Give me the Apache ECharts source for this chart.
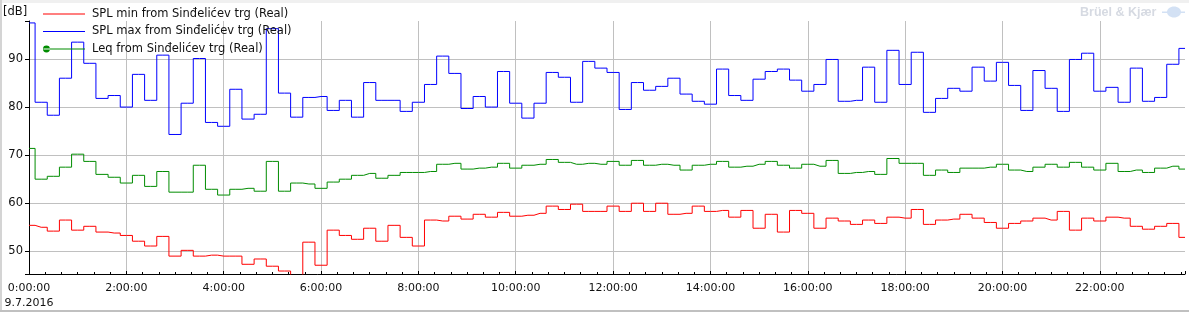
<!DOCTYPE html>
<html>
<head>
<meta charset="utf-8">
<script src="https://cdn.jsdelivr.net/npm/echarts@6/dist/echarts.min.js"></script>
<style>
html,body{margin:0;padding:0;background:#fff;}
#chart{width:1189px;height:312px;}
</style>
</head>
<body>
<div id="chart"></div>
<script>
// ---- Data (15-minute samples, 9.7.2016 from 0:00:00) ----
const seriesNames = [
  'SPL min from Sinđelićev trg (Real)',
  'SPL max from Sinđelićev trg (Real)',
  'Leq from Sinđelićev trg (Real)'
];
const sampleStepHours = 0.25;
const splMin = [
  55.4, 55.0, 54.2, 56.5, 54.4, 55.2, 54.0, 53.8, 53.3, 52.1, 51.1, 53.1, 49.0, 50.2, 49.0, 49.2, 49.0, 49.0, 47.3, 48.4, 46.9, 45.9, 44.0,
  51.9, 47.1, 54.4, 53.3, 52.5, 54.8, 52.1, 55.4, 52.9, 51.1, 56.5, 56.3, 57.3, 56.7, 57.7, 57.1, 58.1, 57.3, 57.5, 57.9, 59.4, 58.7, 59.8,
  58.3, 58.3, 59.4, 58.3, 60.0, 58.3, 60.0, 57.7, 57.9, 59.4, 58.3, 58.5, 57.1, 58.5, 54.8, 57.7, 54.0, 58.5, 57.9, 54.8, 56.9, 56.3, 55.6, 56.5, 55.8,
  57.1, 56.9, 58.7, 55.6, 56.5, 56.7, 57.7, 56.9, 56.0, 54.8, 55.8, 56.3, 56.9, 56.5, 58.3, 54.4, 56.9, 56.3, 57.1, 56.9, 55.2, 54.6, 55.2, 55.8, 52.9
];
const splMax = [
  97.5, 81.0, 78.3, 86.0, 93.5, 89.1, 81.8, 82.4, 80.0, 86.8, 81.4, 90.8, 74.3, 80.8, 90.1, 76.8, 76.0, 83.7, 77.5, 78.5, 96.3, 82.9, 77.9,
  82.0, 82.2, 79.3, 81.4, 77.9, 85.1, 81.4, 81.4, 79.1, 81.0, 84.7, 90.6, 87.0, 79.7, 82.2, 80.0, 87.4, 80.8, 77.7, 80.8, 87.2, 86.2, 81.0,
  89.5, 88.1, 87.2, 79.5, 85.1, 83.5, 84.3, 86.0, 82.7, 81.2, 80.6, 87.9, 82.4, 81.4, 85.8, 87.4, 87.9, 85.6, 83.3, 84.7, 89.9, 81.2, 81.4, 88.3, 81.0,
  91.8, 84.7, 91.4, 78.9, 81.8, 83.9, 83.3, 88.3, 85.4, 89.3, 84.5, 79.3, 87.6, 83.9, 79.1, 89.9, 91.2, 83.3, 84.1, 81.0, 88.1, 81.2, 82.0, 88.9, 92.2
];
const leq = [
  71.4, 65.0, 65.6, 67.5, 70.2, 68.7, 66.0, 65.4, 64.2, 65.8, 63.5, 66.6, 62.3, 62.3, 67.9, 62.9, 61.7, 62.9, 63.1, 62.5, 68.7, 62.5, 64.2,
  64.0, 63.1, 64.4, 65.0, 65.8, 66.2, 65.2, 65.8, 66.4, 66.4, 66.6, 68.1, 68.3, 67.1, 67.3, 67.5, 68.3, 67.3, 67.9, 68.1, 69.1, 68.5, 68.1,
  68.3, 68.1, 68.7, 67.9, 68.9, 67.9, 68.1, 67.9, 66.9, 67.9, 68.1, 68.7, 67.5, 67.7, 68.1, 68.7, 67.9, 67.3, 68.1, 67.7, 68.9, 66.2, 66.4, 66.6, 66.0,
  69.3, 68.3, 68.3, 65.8, 66.9, 66.4, 67.3, 67.3, 67.5, 68.1, 66.9, 66.6, 67.5, 68.1, 67.5, 68.5, 67.5, 66.9, 68.3, 66.6, 66.9, 66.4, 67.3, 67.7, 67.1
];
const yTickValues = [50, 60, 70, 80, 90];
const xTickHours = [0, 2, 4, 6, 8, 10, 12, 14, 16, 18, 20, 22];
const dateLabel = '9.7.2016';
const yUnit = '[dB]';
const watermark = 'Brüel & Kjær';

// ---- Build ----
const toPairs = arr => arr.map((v, i) => [i * sampleStepHours, v]);
const lastHour = (splMin.length - 1) * sampleStepHours;

const FONT = 'DejaVu Sans';
const chart = echarts.init(document.getElementById('chart'), null, {renderer: 'canvas'});

const gridGray = '#c0c0c0';
const xSplitColors = [];
for (let i = 0; i < 14; i++) xSplitColors.push(i === 0 || i === 12 ? 'rgba(0,0,0,0)' : gridGray);
const ySplitColors = ['rgba(0,0,0,0)', gridGray, gridGray, gridGray, gridGray, gridGray, 'rgba(0,0,0,0)'];

const lineIcon = 'path://M0,4.5L42,4.5L42,5.5L0,5.5Z';
const dotIcon = 'path://M0,4.5L42,4.5L42,5.5L0,5.5Z M-0.5,5a3.5,3.5 0 1,0 7,0a3.5,3.5 0 1,0 -7,0Z';

chart.setOption({
  animation: false,
  backgroundColor: '#ffffff',
  textStyle: {fontFamily: FONT},
  grid: {left: 29, right: 4, top: 21, bottom: 38, containLabel: false},
  legend: {
    orient: 'vertical',
    left: 38, top: 2,
    itemWidth: 42, itemHeight: 10, itemGap: 3.5,
    selectedMode: false,
    data: [
      {name: seriesNames[0], icon: lineIcon},
      {name: seriesNames[1], icon: lineIcon},
      {name: seriesNames[2], icon: dotIcon}
    ],
    textStyle: {fontFamily: FONT, fontSize: 11.5, color: '#111', lineHeight: 14, padding: [0, 0, 0, 2]}
  },
  xAxis: {
    type: 'value',
    min: 0, max: lastHour, interval: 2,
    axisLine: {show: true, onZero: false, lineStyle: {color: '#000', width: 1}},
    axisTick: {show: true, inside: true, length: 3, lineStyle: {color: '#000'}},
    minorTick: {show: true, splitNumber: 6, length: 2, lineStyle: {color: '#000'}},
    splitLine: {show: true, lineStyle: {color: xSplitColors, width: 1}},
    axisLabel: {
      color: '#111', fontFamily: FONT, fontSize: 11, margin: 7, lineHeight: 15,
      showMaxLabel: false,
      formatter: v => {
        if (xTickHours.indexOf(v) < 0) return '';
        return v === 0 ? v + ':00:00\n' + dateLabel : v + ':00:00';
      }
    }
  },
  yAxis: {
    type: 'value',
    min: 45.28, max: 97.9,
    axisLine: {show: true, lineStyle: {color: '#000', width: 1}},
    axisTick: {show: true, length: 4, lineStyle: {color: '#000'}},
    splitLine: {show: true, lineStyle: {color: ySplitColors, width: 1}},
    axisLabel: {
      color: '#111', fontFamily: FONT, fontSize: 11.5, margin: 6,
      formatter: v => yTickValues.indexOf(v) >= 0 ? String(v) : ''
    }
  },
  graphic: [
    {type: 'rect', left: 0, top: 0, shape: {width: 1189, height: 3}, style: {fill: '#f0f0f0'}, silent: true},
    {type: 'rect', left: 0, top: 0, shape: {width: 2, height: 312}, style: {fill: '#d4d4d4'}, silent: true},
    {type: 'rect', left: 0, top: 310, shape: {width: 1189, height: 2}, style: {fill: '#c0c0c0'}, silent: true},
    {type: 'text', left: 3, top: 6, style: {text: yUnit, font: '11.5px "DejaVu Sans"', fill: '#111'}},
    {type: 'text', left: 1080, top: 6, style: {text: watermark, font: 'bold 12.5px "Liberation Sans"', fill: '#d6dae2'}},
    {type: 'ellipse', shape: {cx: 1174, cy: 12, rx: 7, ry: 5.5}, style: {fill: '#d3e1f4'}, silent: true},
    {type: 'rect', shape: {x: 1162, y: 11.5, width: 23, height: 1.5}, style: {fill: '#d3e1f4'}, silent: true}
  ],
  series: [
    {name: seriesNames[0], type: 'line', step: 'middle', showSymbol: false, symbol: 'none',
     data: toPairs(splMin), lineStyle: {color: '#ff0000', width: 1}, itemStyle: {color: '#ff0000'}},
    {name: seriesNames[1], type: 'line', step: 'middle', showSymbol: false, symbol: 'none',
     data: toPairs(splMax), lineStyle: {color: '#0000ff', width: 1}, itemStyle: {color: '#0000ff'}},
    {name: seriesNames[2], type: 'line', step: 'middle', showSymbol: false, symbol: 'none',
     data: toPairs(leq), lineStyle: {color: '#008c00', width: 1}, itemStyle: {color: '#008c00'}}
  ]
});
</script>
</body>
</html>
